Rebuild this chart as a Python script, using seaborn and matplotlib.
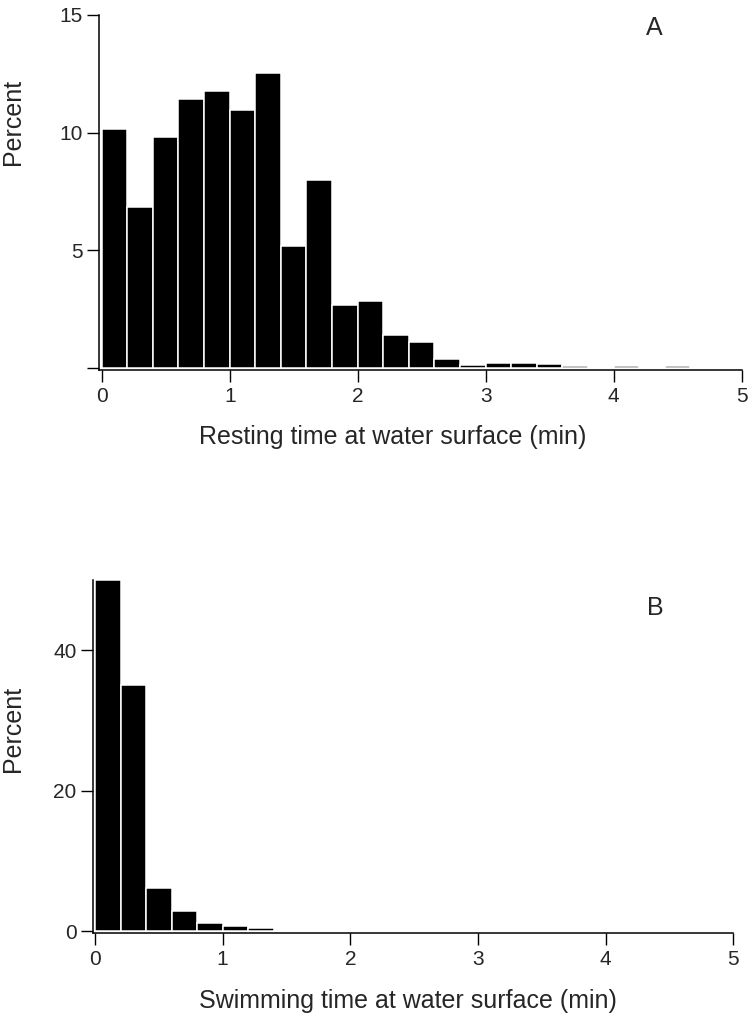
import matplotlib
matplotlib.use("Agg")
import matplotlib.pyplot as plt
import seaborn as sns

# bin starts (min) and percent per 0.2-min bin
bin_starts = [0.0, 0.2, 0.4, 0.6, 0.8, 1.0, 1.2, 1.4, 1.6, 1.8, 2.0, 2.2, 2.4,
              2.6, 2.8, 3.0, 3.2, 3.4, 3.6, 3.8, 4.0, 4.2, 4.4, 4.6, 4.8]
bin_edges = [0.0, 0.2, 0.4, 0.6, 0.8, 1.0, 1.2, 1.4, 1.6, 1.8, 2.0, 2.2, 2.4,
             2.6, 2.8, 3.0, 3.2, 3.4, 3.6, 3.8, 4.0, 4.2, 4.4, 4.6, 4.8, 5.0]

resting_pct = [10.14, 6.82, 9.80, 11.42, 11.77, 10.95, 12.52, 5.16, 7.97, 2.67,
               2.85, 1.39, 1.11, 0.38, 0.12, 0.18, 0.18, 0.17, 0.08, 0.0,
               0.08, 0.0, 0.08, 0.0, 0.0]
swimming_pct = [50.0, 35.1, 6.13, 2.86, 1.19, 0.72, 0.44, 0.0, 0.0, 0.0,
                0.0, 0.0, 0.0, 0.0, 0.0, 0.0, 0.0, 0.0, 0.0, 0.0,
                0.0, 0.0, 0.0, 0.0, 0.0]

x_ticks = [0, 1, 2, 3, 4, 5]
resting_yticks = [0, 5, 10, 15]
resting_ylabels = ["", "5", "10", "15"]
swimming_yticks = [0, 20, 40]
swimming_ylabels = ["0", "20", "40"]

sns.set_style("ticks")
plt.rcParams["font.family"] = ["Liberation Sans", "DejaVu Sans"]

fig = plt.figure(figsize=(7.52, 10.17), dpi=100)

ax_a = fig.add_axes([0.1320, 0.6362, 0.8543, 0.3491])
ax_b = fig.add_axes([0.1241, 0.0823, 0.8511, 0.3474])


def draw_panel(ax, values, xlim, ylim, yticks, ylabels):
    sns.histplot(x=[b + 0.1 for b in bin_starts], weights=values, bins=bin_edges,
                 stat="count", color="black", edgecolor="white", linewidth=1.1,
                 alpha=1, ax=ax)
    ax.set_xlim(*xlim)
    ax.set_ylim(*ylim)
    ax.set_xticks(x_ticks)
    ax.set_xticklabels([str(t) for t in x_ticks])
    ax.set_yticks(yticks)
    ax.set_yticklabels(ylabels)
    ax.set_xlabel("")
    ax.set_ylabel("")
    ax.tick_params(axis="both", length=8.5, width=1, color="black",
                   labelsize=15, pad=3.5, direction="out")
    for s in ["left", "bottom"]:
        ax.spines[s].set_linewidth(1.1)
        ax.spines[s].set_color("black")
    sns.despine(ax=ax)


draw_panel(ax_a, resting_pct, (-0.019, 5), (-0.098, 15), resting_yticks, resting_ylabels)
draw_panel(ax_b, swimming_pct, (-0.013, 5), (-0.27, 50), swimming_yticks, swimming_ylabels)

# axis titles and panel letters
fig.text(199 / 752, 1 - 444 / 1017, "Resting time at water surface (min)",
         fontsize=18, ha="left", va="baseline")
fig.text(199 / 752, 1 - 1008 / 1017, "Swimming time at water surface (min)",
         fontsize=18, ha="left", va="baseline")
fig.text(13 / 752, 1 - 122 / 1017, "Percent", rotation=90, fontsize=18,
         ha="center", va="center")
fig.text(13 / 752, 1 - 729 / 1017, "Percent", rotation=90, fontsize=18,
         ha="center", va="center")
fig.text(654 / 752, 1 - 28 / 1017, "A", fontsize=18, ha="center", va="center")
fig.text(655 / 752, 1 - 608 / 1017, "B", fontsize=18, ha="center", va="center")

fig.savefig("out.png", dpi=100)
